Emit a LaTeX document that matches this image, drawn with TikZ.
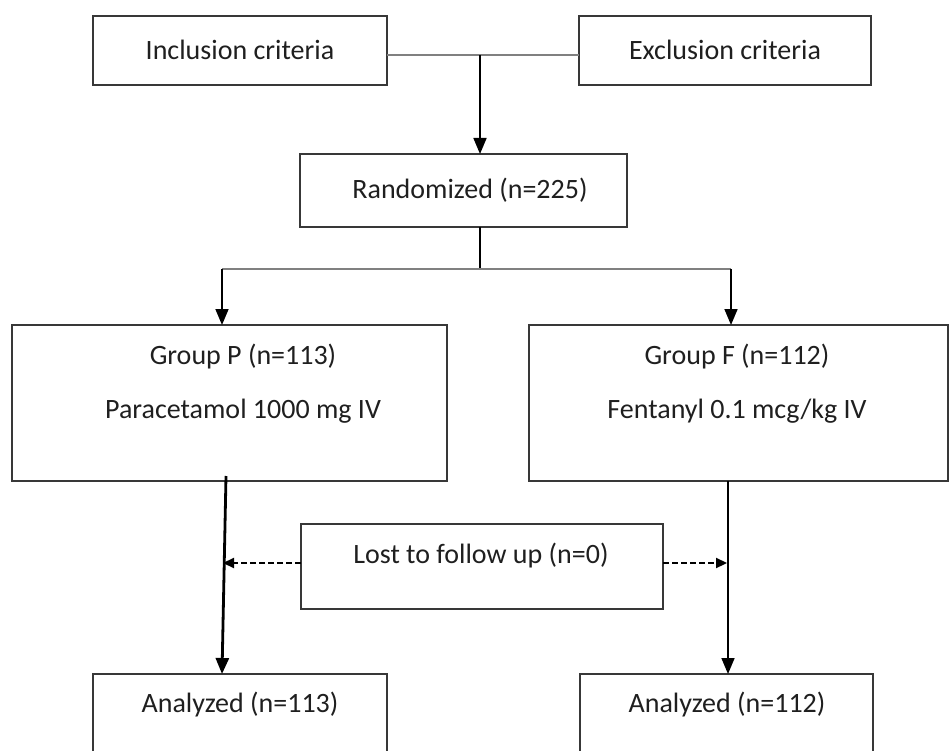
\documentclass[tikz,border=0pt]{standalone}
\usepackage{fontspec}
\setmainfont{Carlito}
\usetikzlibrary{arrows.meta}
\definecolor{boxc}{gray}{0.22}
\definecolor{gline}{gray}{0.5}
\begin{document}
\begin{tikzpicture}[x=1pt,y=-1pt,
  box/.style={draw=boxc, line width=1.6pt, inner sep=0pt, outer sep=0pt, anchor=north west},
  txt/.style={font=\fontsize{28}{30}\selectfont, inner sep=0pt, text=black!88},
  conn/.style={line width=1.7pt, draw=black},
  gconn/.style={line width=2.6pt, draw=gline},
  arr/.style={-{Triangle[length=16pt,width=13pt]}},
  darr/.style={dash pattern=on 6pt off 3pt, line width=2.2pt, draw=black, -{Triangle[length=11pt,width=10pt]}}]
\useasboundingbox (0,0) rectangle (950,751);
\clip (0,0) rectangle (950,751);
% boxes
\node[box, minimum width=294pt, minimum height=69pt] (inc) at (93,16) {};
\node[box, minimum width=292pt, minimum height=69pt] (exc) at (579,16) {};
\node[box, minimum width=327pt, minimum height=73pt] (rand) at (300,154) {};
\node[box, minimum width=435pt, minimum height=156pt] (gp) at (12,325) {};
\node[box, minimum width=419pt, minimum height=156pt] (gf) at (529,325) {};
\node[box, minimum width=362pt, minimum height=85pt] (lost) at (301,524) {};
\node[box, minimum width=294pt, minimum height=120pt] (anl) at (93,674) {};
\node[box, minimum width=293pt, minimum height=120pt] (anr) at (580,674) {};
% texts
\node[txt] (tinc) at (240,50) {Inclusion criteria};
\node[txt] (texc) at (725,50) {Exclusion criteria};
\node[txt] (trand) at (470,190) {Randomized (n=225)};
\node[txt] (tgp1) at (243,357) {Group P (n=113)};
\node[txt] (tgp2) at (243,411) {Paracetamol 1000 mg IV};
\node[txt] (tgf1) at (737,357) {Group F (n=112)};
\node[txt] (tgf2) at (737,411) {Fentanyl 0.1 mcg/kg IV};
\node[txt] (tlost) at (481,556) {Lost to follow up (n=0)};
\node[txt] (tanl) at (240,705) {Analyzed (n=113)};
\node[txt] (tanr) at (727,705) {Analyzed (n=112)};
% connectors
\coordinate (j1) at (480,55);
\draw[gconn] (inc.east |- j1) -- (exc.west |- j1);
\draw[conn,arr] (j1) -- (rand.north -| j1);
\coordinate (j2) at (480,269);
\draw[conn] (rand.south -| j2) -- (j2);
\coordinate (bl) at (222,269);
\coordinate (br) at (731,269);
\draw[gconn] (bl) -- (br);
\draw[conn,arr] (bl) -- (gp.north -| bl);
\draw[conn,arr] (br) -- (gf.north -| br);
\coordinate (ls) at (226,476);
\coordinate (le) at (222,600);
\draw[line width=2.8pt, draw=black, arr] (ls) -- (anl.north -| le);
\coordinate (rs) at (728,500);
\draw[conn,arr] (gf.south -| rs) -- (anr.north -| rs);
\coordinate (dl) at (223,563);
\coordinate (dr) at (727,563);
\draw[darr] (lost.west |- dl) -- (dl);
\draw[darr] (lost.east |- dr) -- (dr);
\end{tikzpicture}
\end{document}
